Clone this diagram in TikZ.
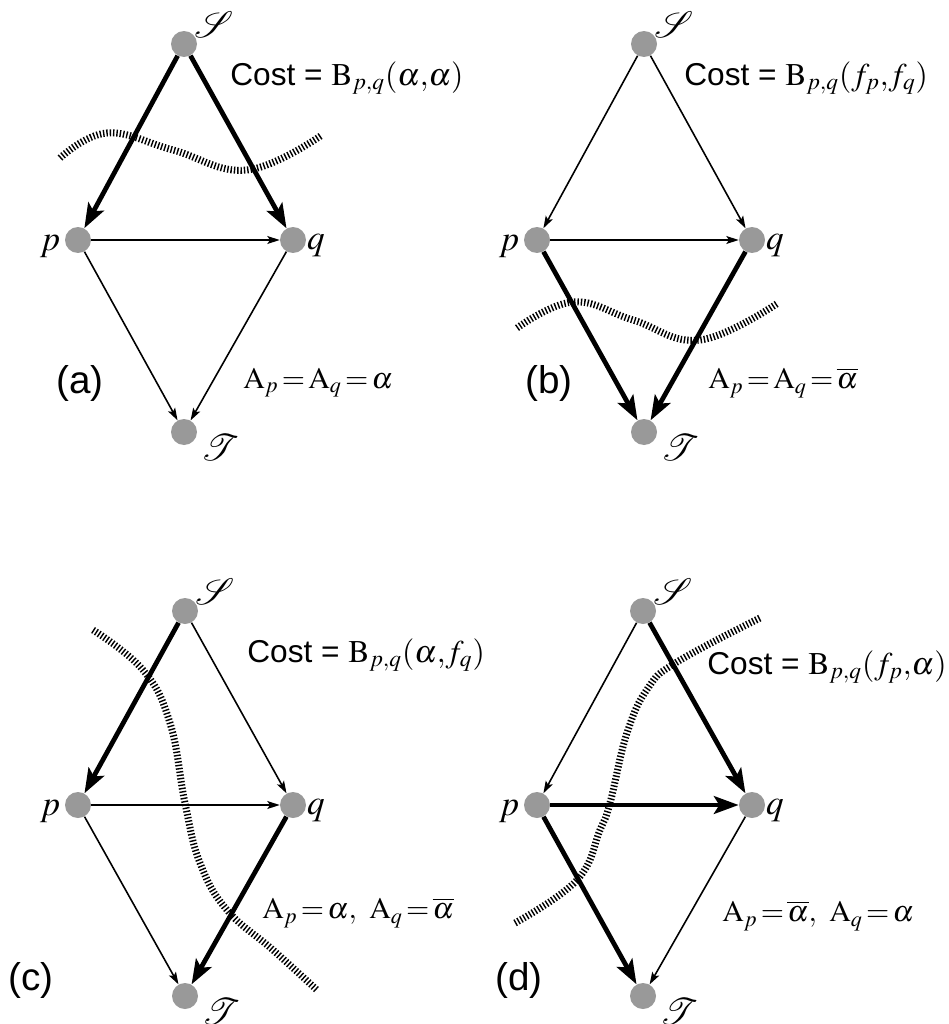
\documentclass[tikz,border=0pt]{standalone}
\usepackage{mathptmx}
\usepackage[no-math]{fontspec}
\setsansfont{Liberation Sans}
\usetikzlibrary{arrows.meta,calc}
\definecolor{nodegray}{RGB}{153,153,153}
\begin{document}
\begin{tikzpicture}[x=0.02cm,y=-0.02cm,
  vtx/.style={circle,fill=nodegray,inner sep=0pt,minimum size=0.52cm},
  thin edge/.style={line width=0.9pt,-{Stealth[length=7pt,width=4.5pt,inset=1.5pt]}},
  thick edge/.style={line width=2.7pt,-{Stealth[length=14pt,width=10pt,inset=3pt]}},
  cut/.style={line width=4pt,dash pattern=on 0.8pt off 1.1pt},
  txt/.style={anchor=west,inner sep=0pt,font=\fontsize{18}{21}\selectfont},
  asg/.style={anchor=west,inner sep=0pt,font=\fontsize{17}{20}\selectfont},
  plet/.style={anchor=west,inner sep=0pt,font=\sffamily\fontsize{22}{25}\selectfont},
  vlab/.style={inner sep=0pt,font=\fontsize{21}{24}\selectfont},
  plab/.style={inner sep=0pt,font=\fontsize{20}{23}\selectfont}]
\useasboundingbox (0,0) rectangle (948,1024);

% ---------- vertex positions ----------
\foreach \n/\sx/\sy/\px/\py/\qx/\qy/\tx/\ty in
  {a/184/44/78/240/293/240/184/432,
   b/644/44/537/240/752/240/644/432,
   c/185/611/78/805/293/805/185/996,
   d/643/611/537/805/752/805/643/996}{
  \coordinate (S\n c) at (\sx,\sy);
  \coordinate (p\n c) at (\px,\py);
  \coordinate (q\n c) at (\qx,\qy);
  \coordinate (T\n c) at (\tx,\ty);
}

% ---------- cuts ----------
\draw[cut] plot[smooth,tension=0.7] coordinates {(60,158) (107,133) (173,150) (247,170) (322,135)};
\draw[cut] plot[smooth,tension=0.7] coordinates {(517,328) (573,302) (633,320) (700,340) (778,303)};
\draw[cut] plot[smooth,tension=0.7] coordinates {(93,630) (143,670) (170,723) (185,803) (200,863) (227,910) (273,950) (317,990)};
\draw[cut] plot[smooth,tension=0.7] coordinates {(515,923) (577,880) (600,830) (610,803) (627,733) (648,688) (677,662) (760,618)};

% ---------- vertices and their labels ----------
\foreach \n in {a,b,c,d}{
  \node[vtx] (S\n) at (S\n c) {};
  \node[vtx] (p\n) at (p\n c) {};
  \node[vtx] (q\n) at (q\n c) {};
  \node[vtx] (T\n) at (T\n c) {};
  \node[vlab] (S\n l) at ($(S\n)+(30,-19)$) {$\mathcal{S}$};
  \node[vlab] (T\n l) at ($(T\n)+(36,16)$) {$\mathcal{T}$};
  \node[plab] (p\n l) at ($(p\n)+(-28,6)$) {$p$};
  \node[plab] (q\n l) at ($(q\n)+(23,6)$) {$q$};
}

% ---------- edges (a) ----------
\draw[thick edge] (Sa) -- (pa);
\draw[thick edge] (Sa) -- (qa);
\draw[thin edge] (pa) -- (qa);
\draw[thin edge] (pa) -- (Ta);
\draw[thin edge] (qa) -- (Ta);
% ---------- edges (b) ----------
\draw[thin edge] (Sb) -- (pb);
\draw[thin edge] (Sb) -- (qb);
\draw[thin edge] (pb) -- (qb);
\draw[thick edge] (pb) -- (Tb);
\draw[thick edge] (qb) -- (Tb);
% ---------- edges (c) ----------
\draw[thick edge] (Sc) -- (pc);
\draw[thin edge] (Sc) -- (qc);
\draw[thin edge] (pc) -- (qc);
\draw[thin edge] (pc) -- (Tc);
\draw[thick edge] (qc) -- (Tc);
% ---------- edges (d) ----------
\draw[thin edge] (Sd) -- (pd);
\draw[thick edge] (Sd) -- (qd);
\draw[thick edge] (pd) -- (qd);
\draw[thick edge] (pd) -- (Td);
\draw[thin edge] (qd) -- (Td);

% ---------- texts ----------
\node[txt] (costa) at (230,78) {\sffamily Cost = $\mathrm{B}_{p,q}(\alpha{,}\alpha)$};
\node[txt] (costb) at (684,78) {\sffamily Cost = $\mathrm{B}_{p,q}(f_p{,}f_q)$};
\node[txt] (costc) at (247,655) {\sffamily Cost = $\mathrm{B}_{p,q}(\alpha{,}f_q)$};
\node[txt] (costd) at (707,667) {\sffamily Cost = $\mathrm{B}_{p,q}(f_p{,}\alpha)$};

\node[asg] (asga) at (243,383) {$\mathrm{A}_p\!=\!\mathrm{A}_q\!=\!\alpha$};
\node[asg] (asgb) at (708,383) {$\mathrm{A}_p\!=\!\mathrm{A}_q\!=\!\overline{\alpha}$};
\node[asg] (asgc) at (262,913) {$\mathrm{A}_p\!=\!\alpha,\ \mathrm{A}_q\!=\!\overline{\alpha}$};
\node[asg] (asgd) at (722,916) {$\mathrm{A}_p\!=\!\overline{\alpha},\ \mathrm{A}_q\!=\!\alpha$};

\node[plet] (la) at (56,383) {(a)};
\node[plet] (lb) at (525,383) {(b)};
\node[plet] (lc) at (8,980) {(c)};
\node[plet] (ld) at (495,980) {(d)};
\end{tikzpicture}
\end{document}
